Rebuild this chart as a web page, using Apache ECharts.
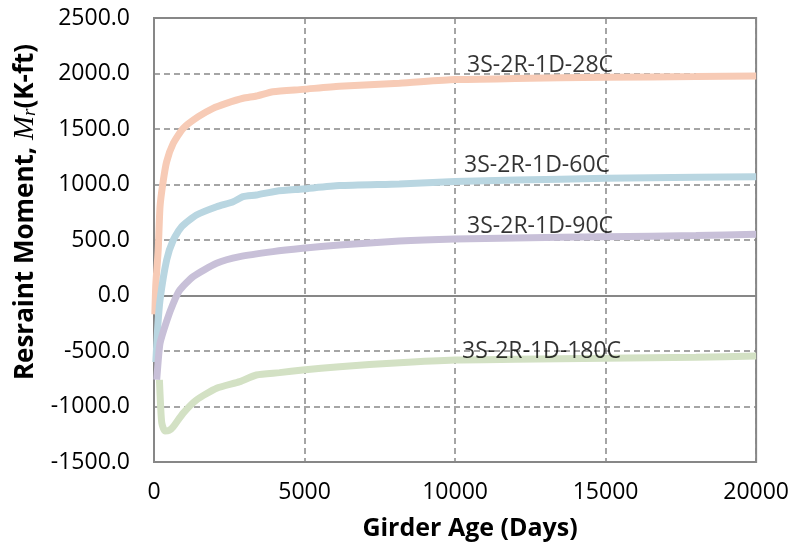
<!DOCTYPE html>
<html>
<head>
<meta charset="utf-8">
<script src="https://cdn.jsdelivr.net/npm/echarts@6/dist/echarts.min.js"></script>
<style>html,body{margin:0;padding:0;background:#fff}#c{width:792px;height:556px}</style>
</head>
<body>
<div id="c"></div>
<script>
// ---- data (days, restraint moment in K-ft) ----
const seriesNames = ['3S-2R-1D-28C', '3S-2R-1D-60C', '3S-2R-1D-90C', '3S-2R-1D-180C'];
const data28C = [[28,-170],[60,100],[140,410],[200,800],[300,1020],[420,1205],[640,1371],[970,1506],[1470,1611],[1960,1686],[2400,1731],[2960,1777],[3400,1797],[3950,1836],[4940,1857],[6160,1885],[8150,1912],[10000,1945],[12000,1955],[15000,1966],[18000,1972],[20000,1977]];
const data60C = [[60,-600],[120,-300],[200,-40],[420,320],[640,500],[920,620],[1410,725],[2080,800],[2630,845],[2960,890],[3400,905],[4060,940],[4940,960],[6160,990],[8150,1005],[10000,1026],[12000,1040],[15000,1056],[18000,1066],[20000,1070]];
const data90C = [[90,-760],[130,-620],[200,-430],[420,-230],[640,-70],[860,50],[1300,170],[2080,290],[2850,350],[3950,395],[4940,425],[6160,455],[8150,491],[10000,509],[12000,518],[15000,530],[18000,540],[20000,551]];
const data180C = [[180,-760],[220,-1000],[260,-1150],[360,-1220],[500,-1215],[640,-1182],[970,-1060],[1410,-941],[2080,-836],[2850,-776],[3400,-716],[4170,-695],[4940,-671],[6160,-641],[8150,-605],[10000,-581],[12000,-575],[15000,-566],[18000,-556],[20000,-545]];
// label anchor positions (data coords)
const labelPos = [[10400,2068],[10300,1176],[10400,626],[10230,-500]];
const xTicks = {min: 0, max: 20000, interval: 5000};
const yTicks = {min: -1500, max: 2500, interval: 500};

const colors = ['#F7CBB6', '#B9D6E1', '#C8C0D8', '#D3E1C4'];
const allData = [data28C, data60C, data90C, data180C];
const FONT = 'Open Sans';

const series = allData.map((d, i) => ({
  name: seriesNames[i],
  type: 'line',
  data: d,
  symbol: 'none',
  smooth: 0.2,
  lineStyle: {color: colors[i], width: 7},
  z: 3 + i,
  markLine: i === 0 ? {
    silent: true, symbol: 'none', label: {show: false},
    lineStyle: {color: '#878787', width: 2, type: 'solid'},
    data: [{yAxis: 0}], z: 2
  } : undefined
}));
series.push({
  type: 'scatter',
  symbolSize: 0,
  silent: true,
  data: labelPos.map((p, i) => ({value: p, name: seriesNames[i]})),
  label: {
    show: true, position: 'right', distance: 0,
    formatter: p => p.name,
    fontFamily: FONT, fontSize: 23, color: '#000'
  },
  z: 10
});

const chart = echarts.init(document.getElementById('c'));
chart.setOption({
  animation: false,
  grid: {left: 154, right: 34, top: 18, bottom: 94, show: true, borderColor: '#878787', borderWidth: 2},
  xAxis: {
    type: 'value', min: xTicks.min, max: xTicks.max, interval: xTicks.interval,
    axisLine: {show: false, onZero: false},
    axisTick: {show: false},
    axisLabel: {color: '#000', fontFamily: FONT, fontSize: 23, margin: 19, formatter: v => String(v)},
    splitLine: {show: true, lineStyle: {color: '#888', width: 1.5, type: [6, 4]}},
    name: 'Girder Age (Days)', nameLocation: 'middle', nameGap: 54,
    nameTextStyle: {color: '#000', fontFamily: FONT, fontSize: 25, fontWeight: 'bold', padding: [0, 0, 0, 30]}
  },
  yAxis: {
    type: 'value', min: yTicks.min, max: yTicks.max, interval: yTicks.interval,
    axisLine: {show: false},
    axisTick: {show: false},
    axisLabel: {color: '#000', fontFamily: FONT, fontSize: 23, margin: 24, formatter: v => v.toFixed(1)},
    splitLine: {show: true, lineStyle: {color: '#888', width: 1.5, type: [6, 4]}},
    name: '{a|Resraint Moment, }{m|M}{s|r}{a|(K-ft)}',
    nameLocation: 'middle', nameGap: 108, nameRotate: 90,
    nameTextStyle: {
      padding: [0, 0, 0, 56],
      rich: {
        a: {color: '#000', fontFamily: FONT, fontSize: 26, fontWeight: 'bold'},
        m: {color: '#000', fontFamily: 'Liberation Serif', fontSize: 29, fontStyle: 'italic'},
        s: {color: '#000', fontFamily: 'Liberation Serif', fontSize: 19, fontStyle: 'italic', verticalAlign: 'bottom'}
      }
    }
  },
  series: series
});
</script>
</body>
</html>
